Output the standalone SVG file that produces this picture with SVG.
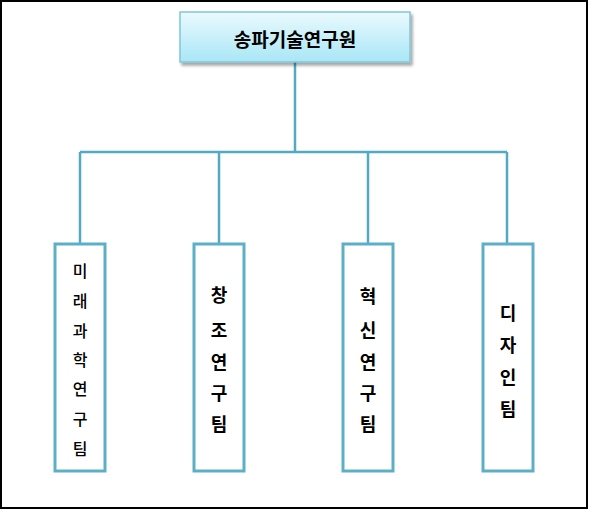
<svg xmlns="http://www.w3.org/2000/svg" width="589" height="510" viewBox="0 0 589 510">
<defs>
<linearGradient id="g" x1="0" y1="0" x2="0" y2="1">
<stop offset="0" stop-color="#eafafe"/>
<stop offset="1" stop-color="#a9e6f6"/>
</linearGradient>
<filter id="sh" x="-10%" y="-10%" width="130%" height="140%">
<feGaussianBlur in="SourceAlpha" stdDeviation="1.5"/>
<feOffset dx="2" dy="3" result="b"/>
<feComponentTransfer><feFuncA type="linear" slope="0.35"/></feComponentTransfer>
<feMerge><feMergeNode/><feMergeNode in="SourceGraphic"/></feMerge>
</filter>
</defs>
<style>
.t{font-family:"Noto Sans CJK KR","Noto Sans",sans-serif;fill:#000;text-anchor:middle;dominant-baseline:central}
.r{font-weight:bold;font-size:19px}
.b{font-weight:bold;font-size:18px}
.n{font-size:16px;font-weight:500}
.box{fill:#fff;stroke:#5cafc6;stroke-width:3}
.c{stroke:#52aac2;stroke-width:2.5;fill:none}
</style>
<rect x="1" y="1" width="586" height="507" fill="#fff" stroke="#000" stroke-width="2"/>
<g id="connectors">
<path class="c" d="M295 62V152M80 152H507M80 152V244M219 152V244M368 152V244M507 152V244"/>
</g>
<g id="root">
<rect x="180" y="12" width="230" height="50" fill="url(#g)" stroke="#80c6d8" stroke-width="1.5" filter="url(#sh)"/>
<text class="t r" x="295" y="38">송파기술연구원</text>
</g>
<g id="team1">
<rect class="box" x="55" y="244" width="50" height="227"/>
<text class="t n" x="80" y="270">미</text>
<text class="t n" x="80" y="300">래</text>
<text class="t n" x="80" y="330">과</text>
<text class="t n" x="80" y="359">학</text>
<text class="t n" x="80" y="388">연</text>
<text class="t n" x="80" y="418">구</text>
<text class="t n" x="80" y="448">팀</text>
</g>
<g id="team2">
<rect class="box" x="194" y="244" width="50" height="227"/>
<text class="t b" x="219" y="294">창</text>
<text class="t b" x="219" y="329">조</text>
<text class="t b" x="219" y="361">연</text>
<text class="t b" x="219" y="392">구</text>
<text class="t b" x="219" y="423">팀</text>
</g>
<g id="team3">
<rect class="box" x="343" y="244" width="50" height="227"/>
<text class="t b" x="368" y="295">혁</text>
<text class="t b" x="368" y="329">신</text>
<text class="t b" x="368" y="361">연</text>
<text class="t b" x="368" y="392">구</text>
<text class="t b" x="368" y="423">팀</text>
</g>
<g id="team4">
<rect class="box" x="483" y="244" width="50" height="227"/>
<text class="t b" x="508" y="312">디</text>
<text class="t b" x="508" y="344">자</text>
<text class="t b" x="508" y="376">인</text>
<text class="t b" x="508" y="408">팀</text>
</g>
</svg>
